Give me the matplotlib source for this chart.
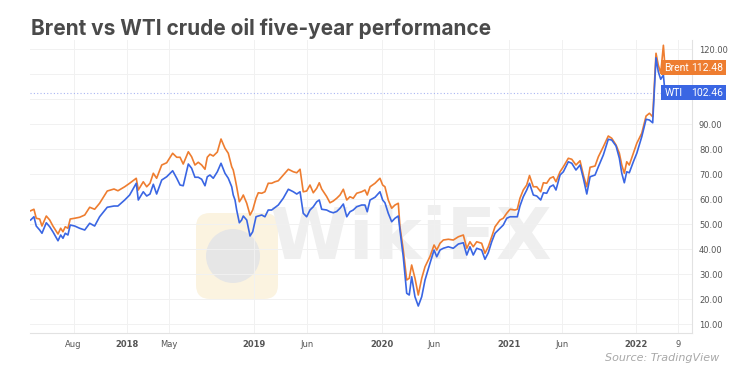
import numpy as np
import matplotlib.pyplot as plt
from matplotlib.patches import FancyBboxPatch, Rectangle, Circle

# weekly-ish closes (decimal years)
dates = [2017.243, 2017.269, 2017.287, 2017.314, 2017.332, 2017.366, 2017.393, 2017.418,
         2017.458, 2017.479, 2017.497, 2017.515, 2017.536, 2017.554, 2017.589, 2017.628,
         2017.668, 2017.707, 2017.746, 2017.785, 2017.845, 2017.898, 2017.929, 2017.982,
         2018.021, 2018.073, 2018.089, 2018.128, 2018.155, 2018.181, 2018.207, 2018.233,
         2018.273, 2018.312, 2018.359, 2018.391, 2018.417, 2018.442, 2018.482, 2018.508,
         2018.534, 2018.560, 2018.587, 2018.613, 2018.631, 2018.652, 2018.678, 2018.710,
         2018.739, 2018.770, 2018.796, 2018.823, 2018.835, 2018.849, 2018.862, 2018.883,
         2018.901, 2018.914, 2018.941, 2018.967, 2018.988, 2019.014, 2019.032, 2019.059,
         2019.084, 2019.110, 2019.137, 2019.163, 2019.189, 2019.228, 2019.268, 2019.307,
         2019.334, 2019.360, 2019.385, 2019.412, 2019.438, 2019.464, 2019.491, 2019.511,
         2019.530, 2019.569, 2019.595, 2019.621, 2019.648, 2019.674, 2019.700, 2019.727,
         2019.752, 2019.778, 2019.805, 2019.844, 2019.870, 2019.888, 2019.910, 2019.949,
         2019.988, 2020.009, 2020.027, 2020.053, 2020.080, 2020.106, 2020.132, 2020.145,
         2020.171, 2020.198, 2020.218, 2020.237, 2020.263, 2020.289, 2020.316, 2020.342,
         2020.381, 2020.413, 2020.434, 2020.460, 2020.486, 2020.525, 2020.564, 2020.604,
         2020.643, 2020.670, 2020.695, 2020.721, 2020.748, 2020.787, 2020.813, 2020.839,
         2020.866, 2020.892, 2020.931, 2020.957, 2020.984, 2021.010, 2021.049, 2021.067,
         2021.088, 2021.114, 2021.141, 2021.163, 2021.193, 2021.220, 2021.251, 2021.272,
         2021.298, 2021.324, 2021.350, 2021.371, 2021.403, 2021.429, 2021.468, 2021.495,
         2021.528, 2021.560, 2021.586, 2021.613, 2021.639, 2021.678, 2021.704, 2021.743,
         2021.782, 2021.809, 2021.843, 2021.869, 2021.888, 2021.908, 2021.927, 2021.947,
         2021.979, 2022.006, 2022.045, 2022.079, 2022.105, 2022.131, 2022.157, 2022.175,
         2022.194, 2022.215, 2022.228]

brent = [55.3, 55.9, 52.3, 52.0, 49.2, 53.2, 51.6, 49.2,
         46.0, 48.3, 46.9, 48.9, 48.3, 52.0, 52.3, 52.7,
         53.6, 56.7, 55.9, 58.3, 63.2, 64.0, 63.3, 64.9,
         66.3, 68.3, 63.6, 66.9, 64.9, 66.3, 70.3, 68.3,
         73.6, 74.5, 78.3, 76.7, 76.7, 74.0, 78.9, 76.9,
         73.6, 74.7, 73.6, 71.9, 76.7, 77.9, 77.2, 78.8,
         84.0, 80.3, 78.3, 72.9, 71.6, 68.3, 64.9, 58.9,
         60.3, 61.6, 58.3, 53.6, 55.6, 60.3, 62.5, 62.3,
         62.9, 66.3, 66.3, 66.9, 67.3, 69.6, 71.9, 70.9,
         70.5, 71.9, 62.9, 63.2, 65.6, 62.5, 64.3, 66.5,
         64.0, 61.0, 58.5, 59.2, 60.3, 61.6, 63.9, 59.6,
         60.9, 60.3, 62.3, 62.9, 63.6, 61.6, 64.9, 66.3,
         68.3, 65.6, 64.9, 59.6, 56.3, 57.6, 58.3, 48.9,
         39.6, 27.6, 28.3, 33.6, 28.3, 21.6, 28.3, 32.9,
         37.0, 41.6, 39.6, 42.3, 43.6, 43.9, 43.6, 44.9,
         45.6, 40.3, 42.9, 40.9, 42.9, 42.3, 38.3, 40.9,
         44.9, 48.9, 51.6, 52.3, 54.3, 55.9, 55.6, 55.9,
         60.3, 63.6, 65.6, 69.4, 64.9, 64.9, 62.9, 66.5,
         66.3, 68.3, 68.9, 66.9, 70.9, 72.9, 76.3, 75.9,
         73.6, 75.3, 69.6, 64.9, 72.7, 73.2, 76.9, 80.9,
         85.2, 84.3, 81.6, 78.3, 73.6, 70.3, 74.9, 73.6,
         78.3, 82.3, 86.3, 93.2, 94.3, 92.9, 118.3, 113.6,
         110.3, 121.5, 112.48]

wti = [51.6, 52.9, 49.2, 47.6, 46.3, 50.5, 48.9, 46.9,
       43.3, 45.6, 44.3, 46.3, 45.6, 49.6, 49.2, 48.3,
       47.6, 50.3, 49.2, 52.9, 56.7, 57.2, 57.2, 59.6,
       61.6, 66.3, 59.6, 62.9, 61.2, 62.0, 65.9, 62.0,
       67.6, 68.9, 71.3, 68.3, 65.6, 65.3, 74.0, 72.3,
       68.7, 68.7, 67.9, 65.3, 68.9, 69.6, 68.3, 70.9,
       74.3, 70.3, 68.3, 64.9, 61.6, 59.6, 55.6, 50.5,
       51.6, 53.2, 51.6, 45.2, 46.9, 52.9, 53.2, 53.6,
       52.9, 55.6, 55.6, 56.6, 57.6, 60.3, 63.9, 62.9,
       62.0, 62.9, 54.3, 52.9, 55.6, 56.9, 58.9, 59.6,
       55.9, 55.6, 54.9, 54.5, 55.0, 56.3, 58.0, 52.9,
       54.9, 55.6, 56.9, 57.6, 57.6, 54.9, 59.6, 60.7,
       62.9, 59.6, 58.5, 54.3, 50.9, 52.3, 53.2, 47.6,
       36.9, 22.3, 21.6, 28.9, 20.9, 17.2, 20.9, 27.6,
       34.3, 39.6, 36.9, 39.6, 40.3, 40.9, 40.3, 42.0,
       42.5, 37.6, 40.9, 37.6, 40.3, 39.6, 35.9, 38.5,
       42.9, 46.3, 48.3, 49.6, 52.3, 52.9, 52.9, 52.9,
       57.2, 60.9, 63.6, 66.3, 61.6, 61.2, 59.6, 62.5,
       62.3, 64.9, 65.6, 63.6, 69.6, 70.9, 74.9, 74.3,
       71.6, 73.6, 68.3, 62.0, 68.9, 69.6, 72.9, 77.6,
       83.9, 83.6, 81.2, 76.3, 70.3, 66.5, 70.9, 70.5,
       74.9, 78.3, 84.9, 91.9, 91.6, 90.5, 116.5, 110.9,
       107.9, 109.6, 102.46]

tick_pos = [2017.58, 2018.0, 2018.33, 2019.0, 2019.415, 2020.0, 2020.415, 2021.0, 2021.415, 2022.0, 2022.33]
tick_lab = ['Aug', '2018', 'May', '2019', 'Jun', '2020', 'Jun', '2021', 'Jun', '2022', '9']
y_ticks = [10, 20, 30, 40, 50, 60, 70, 80, 90, 100, 110, 120]
hidden_y = [100, 110]   # covered by the price tags

orange = '#EE7D30'
blue = '#3A66E3'

fig = plt.figure(figsize=(7.5, 3.74), dpi=100)
fig.patch.set_facecolor('white')
ax = fig.add_axes([0.04, 0.1096, 0.8827, 0.7834])
ax.patch.set_alpha(0)

# watermark, behind the axes
fig.patches.append(FancyBboxPatch((196, 75), 82, 86, boxstyle='round,pad=0,rounding_size=14',
                                  transform=None, fc='#FBF3E0', ec='none', zorder=-2))
fig.patches.append(Circle((233, 118), 27, transform=None, fc='#E6E6E6', ec='none', zorder=-1))
fig.text(0.548, 0.36, 'WikiFX', fontsize=52, fontweight='bold', color='#EFEFEF',
         ha='center', va='center', zorder=-1)

ax.plot(dates, brent, color=orange, lw=1.2, zorder=3)
ax.plot(dates, wti, color=blue, lw=1.2, zorder=3)
ax.axhline(wti[-1], color='#A9B4F2', lw=0.8, ls=(0, (1, 2)), zorder=2)

ax.set_xlim(2017.238, 2022.44)
ax.set_ylim(6.4, 123.6)
ax.set_yticks(y_ticks)
ax.set_yticklabels(['' if v in hidden_y else '%.2f' % v for v in y_ticks])
ax.yaxis.tick_right()
ax.set_xticks(tick_pos)
ax.set_xticklabels(tick_lab)
for t in ax.get_xticklabels():
    if t.get_text().isdigit() and len(t.get_text()) == 4:
        t.set_fontweight('bold')
ax.tick_params(axis='both', length=0, labelsize=6, labelcolor='#555555')
ax.tick_params(axis='y', pad=5)
ax.tick_params(axis='x', pad=5)
ax.grid(True, color='#F1F1F1', lw=0.7)
for s in ['top', 'left']:
    ax.spines[s].set_visible(False)
for s in ['right', 'bottom']:
    ax.spines[s].set_color('#E2E2E2')
    ax.spines[s].set_linewidth(0.8)

# last value tags
tr = ax.get_yaxis_transform()
for name, val, col in [('Brent', brent[-1], orange), ('WTI', wti[-1], blue)]:
    ax.add_patch(Rectangle((0.953, val - 3.0), 0.099, 6.0, transform=tr, fc=col, ec='none',
                           clip_on=False, zorder=5))
    ax.text(0.958, val, name, transform=tr, color='white', fontsize=7.5, family='Roboto',
            va='center', ha='left', zorder=6, clip_on=False)
    ax.text(1.047, val, '%.2f' % val, transform=tr, color='white', fontsize=7.5,
            family='Roboto', va='center', ha='right', zorder=6, clip_on=False)

fig.text(0.041, 0.925, 'Brent vs WTI crude oil five-year performance', fontsize=15,
         fontweight='bold', color='#4A4A4A', family='Inter', va='center')
fig.text(0.959, 0.042, 'Source: TradingView', fontsize=8, style='italic', color='#A8A8A8',
         ha='right', va='center')

fig.savefig('out.png', dpi=100)
